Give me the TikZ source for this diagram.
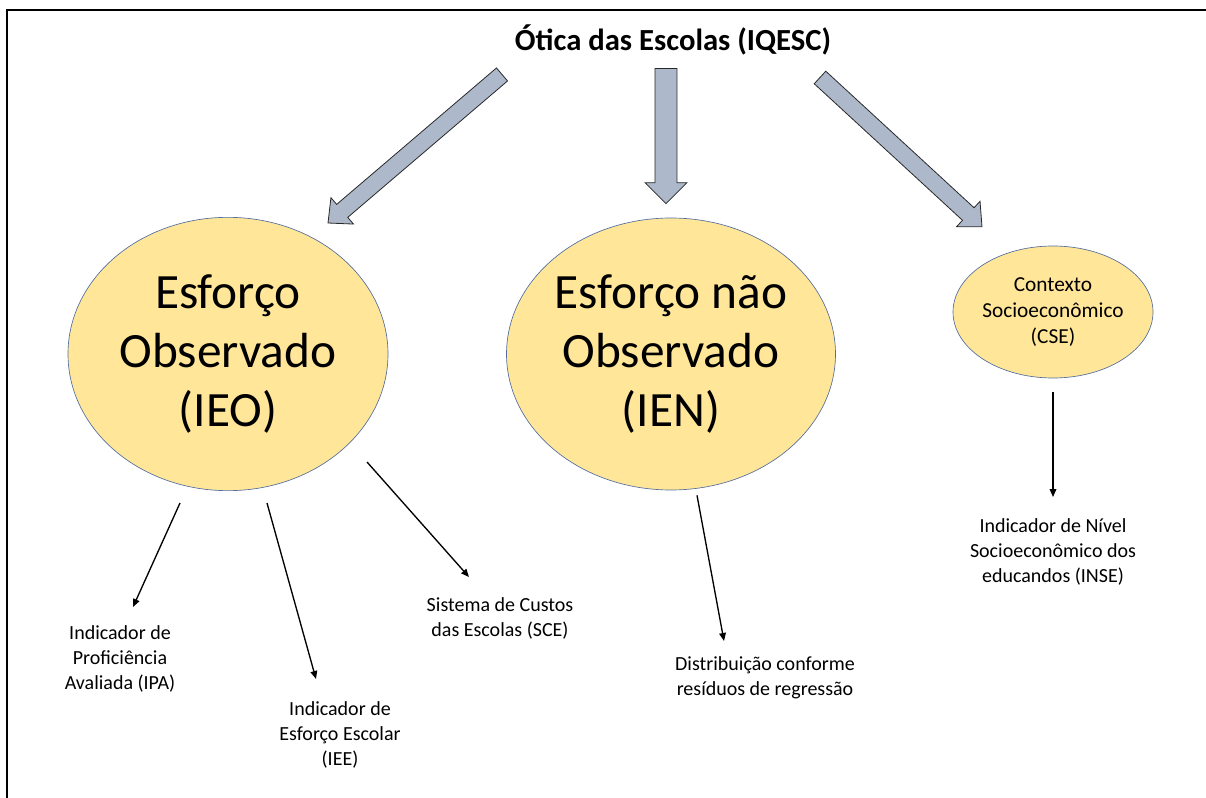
\documentclass[tikz,border=0pt]{standalone}
\usepackage{fontspec}
\setmainfont{Carlito}
\usetikzlibrary{shapes.geometric,arrows.meta,calc}
\definecolor{ovalfill}{RGB}{255,230,153}
\definecolor{ovalline}{RGB}{84,110,160}
\definecolor{fatfill}{RGB}{173,185,202}
\definecolor{fatline}{RGB}{40,40,40}
% block arrow: tail, tip, shaft half width, head half width, head length
\newcommand{\fatarrow}[5]{%
  \path (#2) coordinate (fa-tip) (#1) coordinate (fa-tail);
  \path ($(fa-tip)!#5!(fa-tail)$) coordinate (fa-head);
  \filldraw[fatdecorate] ($(fa-tail)!#3!90:(fa-tip)$) -- ($(fa-head)!#3!90:(fa-tip)$)
    -- ($(fa-head)!#4!90:(fa-tip)$) -- (fa-tip) -- ($(fa-head)!#4!-90:(fa-tip)$)
    -- ($(fa-head)!#3!-90:(fa-tip)$) -- ($(fa-tail)!#3!-90:(fa-tip)$) -- cycle;}
\begin{document}
\begin{tikzpicture}
[x=0.75pt,y=-0.75pt,
 ovaldecorate/.style={shape=ellipse,inner sep=0pt,draw=ovalline,line width=0.5pt,fill=ovalfill,align=center},%
 labeldecorate/.style={inner sep=0pt,align=center,anchor=north,font=\fontsize{15pt}{19pt}\selectfont},%
 fatdecorate/.style={fill=fatfill,draw=fatline,line width=0.6pt,line join=miter},%
 linedecorate/.style={-{Triangle[length=6pt,width=5pt]},line width=1pt}]
\useasboundingbox (0,0) rectangle (1206,798);
% frame
\draw[line width=1.5pt] (7,798) -- (7,10) -- (1206,10);
% title and ovals
\node (title) at (673,40) [inner sep=0pt,font=\bfseries\fontsize{23pt}{27pt}\selectfont] {Ótica das Escolas (IQESC)};
\node (ieo) at (228,354) [ovaldecorate,minimum width=240pt,minimum height=205pt,
  font=\fontsize{37pt}{44.6pt}\selectfont] {Esforço\\Observado\\(IEO)};
\node (ien) at (671,354) [ovaldecorate,minimum width=240pt,minimum height=204pt,
  font=\fontsize{37pt}{44.6pt}\selectfont] {Esforço não\\Observado\\(IEN)};
\node (cse) at (1053,312) [ovaldecorate,minimum width=144pt,minimum height=99pt,
  font=\fontsize{16pt}{19.5pt}\selectfont] {Contexto\\Socioeconômico\\(CSE)};
% labels
\node (ipa) at (120,625) [labeldecorate] {Indicador de\\Proficiência\\Avaliada (IPA)};
\node (iee) at (340,701) [labeldecorate] {Indicador de\\Esforço Escolar\\(IEE)};
\node (sce) at (500,597) [labeldecorate] {Sistema de Custos\\das Escolas (SCE)};
\node (dist) at (765,656) [labeldecorate] {Distribuição conforme\\resíduos de regressão};
\node (inse) at (1053,518) [labeldecorate] {Indicador de Nível\\Socioeconômico dos\\educandos (INSE)};
% block arrows
\fatarrow{$(title.south)+(-171,19)$}{$(ieo.north)+(100,6)$}{6.4pt}{13pt}{14pt}
\fatarrow{$(title.south)+(-7,13)$}{$(ien.north)+(-5,-14)$}{8.2pt}{15.7pt}{15.7pt}
\fatarrow{$(title.south)+(147,22)$}{$(cse.north)+(-71,-19)$}{6.4pt}{13pt}{14pt}
% thin arrows
\draw[linedecorate] ($(ieo.south)+(-48,12)$) -- ($(ipa.north)+(13,-18)$);
\draw[linedecorate] ($(ieo.south)+(39,12)$) -- ($(iee.north)+(-24,-22)$);
\draw[linedecorate] ($(ieo.south)+(139,-29)$) -- ($(sce.north)+(-31,-20)$);
\draw[linedecorate] ($(ien.south)+(26,5)$) -- ($(dist.north)+(-41,-15)$);
\draw[linedecorate] ($(cse.south)+(0,14)$) -- ($(inse.north)+(0,-21)$);
\end{tikzpicture}
\end{document}
